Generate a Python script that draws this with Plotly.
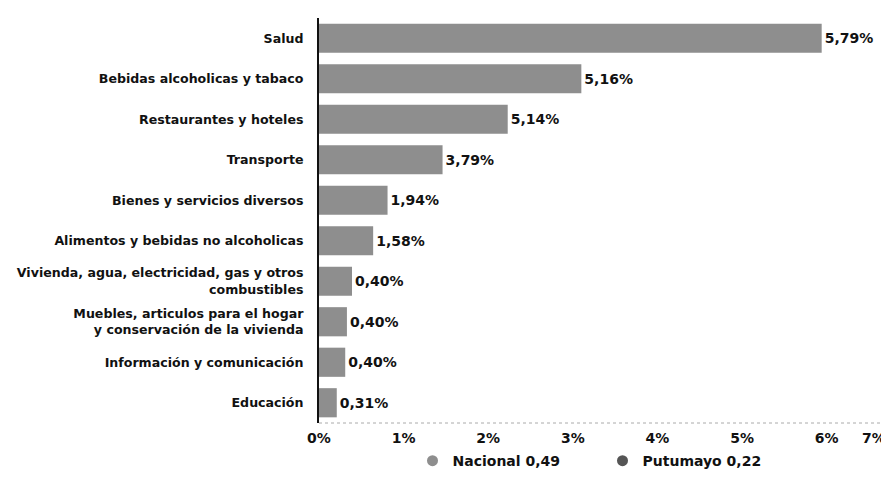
import plotly.graph_objects as go

categories = [
    "Salud",
    "Bebidas alcoholicas y tabaco",
    "Restaurantes y hoteles",
    "Transporte",
    "Bienes y servicios diversos",
    "Alimentos y bebidas no alcoholicas",
    "Vivienda, agua, electricidad, gas y otros<br>combustibles",
    "Muebles, articulos para el hogar<br>y conservación de la vivienda",
    "Información y comunicación",
    "Educación",
]
bar_values = [5.94, 3.10, 2.23, 1.46, 0.81, 0.64, 0.39, 0.33, 0.31, 0.21]
value_labels = ["5,79%", "5,16%", "5,14%", "3,79%", "1,94%", "1,58%",
                "0,40%", "0,40%", "0,40%", "0,31%"]
tick_vals = [0, 1, 2, 3, 4, 5, 6]
tick_text = ["0%", "1%", "2%", "3%", "4%", "5%", "6%"]
legend_names = ["Nacional 0,49", "Putumayo 0,22"]

BAR_COLOR = "#8e8e8e"
DARK = "#555555"
FONT = "DejaVu Sans"

fig = go.Figure()
fig.add_trace(go.Bar(
    x=bar_values, y=categories, orientation="h",
    marker=dict(color=BAR_COLOR, line=dict(width=0)),
    width=0.72,
    text=value_labels, textposition="outside", cliponaxis=False,
    textfont=dict(family=FONT, size=14, color="#111111", weight="bold"),
    showlegend=False, hoverinfo="skip",
))
for name, col in zip(legend_names, [BAR_COLOR, DARK]):
    fig.add_trace(go.Scatter(
        x=[None], y=[None], mode="markers", name=name,
        marker=dict(symbol="circle", size=11, color=col),
    ))

# page body has an 8px margin, so the figure is 8px smaller and shifted
fig.update_layout(
    width=881, height=473,
    margin=dict(l=311, r=3, t=10, b=58),
    paper_bgcolor="white", plot_bgcolor="white",
    font=dict(family=FONT, color="#111111"),
    xaxis=dict(range=[0, 6.7], tickvals=tick_vals, ticktext=tick_text,
               showgrid=False, zeroline=False, showline=False, automargin=False,
               tickfont=dict(size=14, weight="bold"), ticks="", ticklabelstandoff=5),
    yaxis=dict(autorange="reversed", showgrid=False, zeroline=False,
               showline=True, linecolor="#111111", linewidth=2, automargin=False,
               ticks="", ticklabelstandoff=11,
               tickfont=dict(size=12.6, weight="bold")),
    legend=dict(orientation="h", x=0.5, xanchor="center", y=-0.094, yanchor="middle",
                font=dict(size=14, weight="bold"), itemwidth=30, entrywidth=145),
    bargap=0.28,
)
fig.add_shape(type="line", xref="paper", yref="paper", x0=0, x1=1.0, y0=0, y1=0,
              line=dict(color="#aaaaaa", width=1, dash="dot"))
fig.add_annotation(xref="paper", yref="paper", x=1.0, y=0, xanchor="right", yanchor="top",
                   yshift=-5, xshift=2, text="7%", showarrow=False,
                   font=dict(family=FONT, size=14, weight="bold", color="#111111"))

fig.write_html("out.html")
